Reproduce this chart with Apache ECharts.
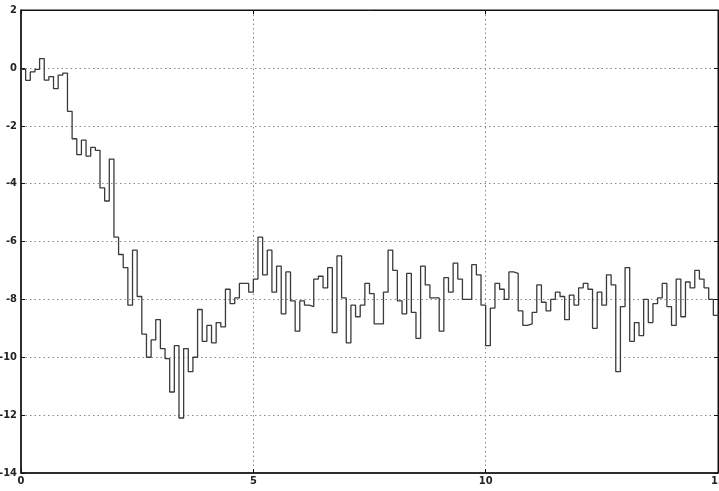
<!DOCTYPE html>
<html>
<head>
<meta charset="utf-8">
<script src="https://cdn.jsdelivr.net/npm/echarts@6/dist/echarts.min.js"></script>
<style>
  html, body { margin: 0; padding: 0; background: #fff; }
  #chart { width: 719px; height: 491px; }
</style>
</head>
<body>
<div id="chart"></div>
<script>
// Sampled scope output, held constant over each 0.1 s sample period
const sampleTime = 0.1;
const signal = [
  -0.05, -0.43, -0.14, -0.05, 0.32, -0.42, -0.3, -0.72, -0.25, -0.18,
  -1.5, -2.45, -3.0, -2.5, -3.05, -2.75, -2.85, -4.15, -4.6, -3.15,
  -5.85, -6.45, -6.9, -8.2, -6.3, -7.9, -9.2, -10.0, -9.4, -8.7,
  -9.7, -10.05, -11.2, -9.6, -12.1, -9.7, -10.5, -10.0, -8.35, -9.45,
  -8.9, -9.5, -8.8, -8.95, -7.65, -8.15, -7.95, -7.45, -7.45, -7.75,
  -7.3, -5.85, -7.15, -6.3, -7.75, -6.85, -8.5, -7.05, -8.05, -9.1,
  -8.05, -8.2, -8.25, -7.3, -7.2, -7.6, -6.9, -9.15, -6.5, -7.95,
  -9.5, -8.2, -8.6, -8.2, -7.45, -7.8, -8.85, -8.85, -7.75, -6.3,
  -7.0, -8.05, -8.5, -7.1, -8.45, -9.35, -6.85, -7.5, -7.95, -7.95,
  -9.1, -7.25, -7.75, -6.75, -7.3, -8.0, -8.0, -6.8, -7.15, -8.2,
  -9.6, -8.3, -7.45, -7.65, -8.0, -7.05, -7.1, -8.4, -8.9, -8.85,
  -8.45, -7.5, -8.1, -8.4, -8.0, -7.75, -7.9, -8.7, -7.85, -8.2,
  -7.6, -7.45, -7.65, -9.0, -7.75, -8.2, -7.15, -7.5, -10.5, -8.25,
  -6.9, -9.45, -8.8, -9.25, -8.0, -8.8, -8.15, -7.95, -7.45, -8.25,
  -8.9, -7.3, -8.6, -7.4, -7.6, -7.0, -7.3, -7.6, -8.0, -8.55
];
const xTicks = [0, 5, 10, 15];
const yTicks = [-14, -12, -10, -8, -6, -4, -2, 0, 2];

// Sample instants; the final hold point closes the last period
const points = signal.map((v, i) => [+(i * sampleTime).toFixed(1), v]);
points.push([+(signal.length * sampleTime).toFixed(1), signal[signal.length - 1]]);

const labelFont = {
  fontFamily: '"Liberation Sans Narrow", "DejaVu Sans Condensed", Arial, sans-serif',
  fontWeight: 'bold',
  fontSize: 11,
  color: '#222'
};
const gridLine = { show: true, lineStyle: { color: '#8a8a8a', type: [1.5, 3], width: 1 } };
const xMin = xTicks[0], xMax = xTicks[xTicks.length - 1];
const yMin = yTicks[0], yMax = yTicks[yTicks.length - 1];
const frameTick = { show: true, inside: true, length: 4, lineStyle: { color: '#111' } };

const chart = echarts.init(document.getElementById('chart'), null, { renderer: 'canvas' });
chart.setOption({
  animation: false,
  backgroundColor: '#fff',
  grid: {
    left: 21, right: 1, top: 10, bottom: 18,
    containLabel: false, outerBoundsMode: 'none',
    show: true, borderColor: '#111', borderWidth: 1
  },
  xAxis: [{
    type: 'value', min: xMin, max: xMax, interval: 5, position: 'bottom',
    axisLine: { show: true, onZero: false, lineStyle: { color: '#111', width: 1.5 } },
    axisTick: frameTick,
    axisLabel: Object.assign({ margin: 3, showMaxLabel: true, hideOverlap: false }, labelFont),
    splitLine: gridLine
  }, {
    type: 'value', min: xMin, max: xMax, interval: 5, position: 'top',
    axisLine: { show: true, onZero: false, lineStyle: { color: '#111' } },
    axisTick: frameTick,
    axisLabel: { show: false }, splitLine: { show: false }
  }],
  yAxis: [{
    type: 'value', min: yMin, max: yMax, interval: 2, position: 'left',
    axisLine: { show: true, onZero: false, lineStyle: { color: '#111', width: 1.5 } },
    axisTick: frameTick,
    axisLabel: Object.assign({ margin: 4 }, labelFont),
    splitLine: gridLine
  }, {
    type: 'value', min: yMin, max: yMax, interval: 2, position: 'right',
    axisLine: { show: true, onZero: false, lineStyle: { color: '#111' } },
    axisTick: frameTick,
    axisLabel: { show: false }, splitLine: { show: false }
  }],
  series: [{
    type: 'line',
    step: 'end',
    data: points,
    xAxisIndex: 0, yAxisIndex: 0,
    showSymbol: false,
    lineStyle: { color: '#3a3a3a', width: 1.3 }
  }]
});
</script>
</body>
</html>
